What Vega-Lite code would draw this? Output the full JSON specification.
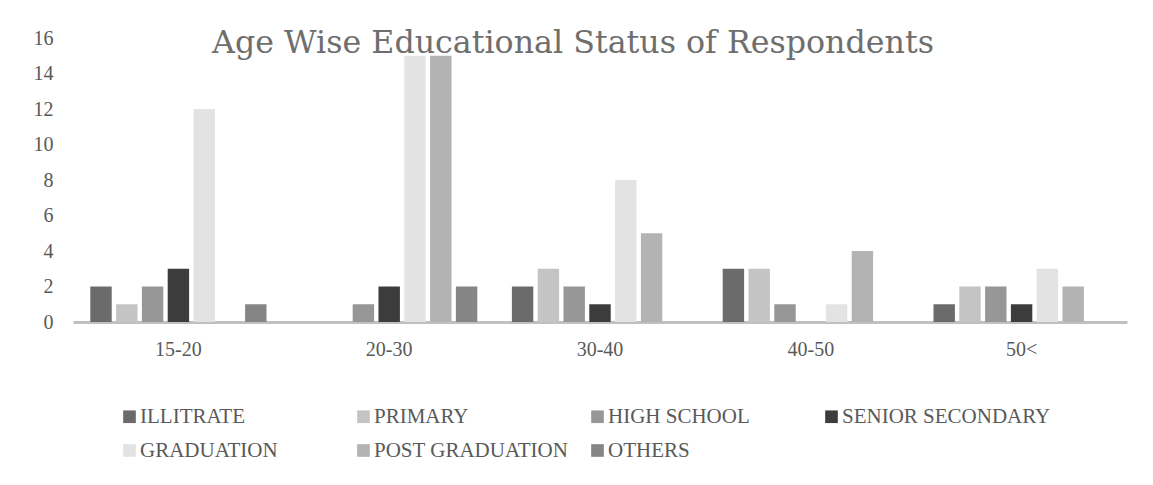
{
  "$schema": "https://vega.github.io/schema/vega-lite/v6.json",
  "width": 1054,
  "height": 284,
  "autosize": {"type": "none"},
  "padding": {"left": 73, "top": 38, "right": 26, "bottom": 163},
  "background": "white",
  "title": {
    "text": "Age Wise Educational Status of Respondents",
    "font": "DejaVu Serif",
    "fontSize": 31.7,
    "fontWeight": "normal",
    "color": "#6e6e6e",
    "anchor": "middle",
    "frame": "group",
    "offset": -28,
    "dx": -27,
    "dy": 29,
    "baseline": "alphabetic"
  },
  "data": {
    "values": [
      {"age": "15-20", "level": "ILLITRATE", "count": 2},
      {"age": "15-20", "level": "PRIMARY", "count": 1},
      {"age": "15-20", "level": "HIGH SCHOOL", "count": 2},
      {"age": "15-20", "level": "SENIOR SECONDARY", "count": 3},
      {"age": "15-20", "level": "GRADUATION", "count": 12},
      {"age": "15-20", "level": "POST GRADUATION", "count": 0},
      {"age": "15-20", "level": "OTHERS", "count": 1},
      {"age": "20-30", "level": "ILLITRATE", "count": 0},
      {"age": "20-30", "level": "PRIMARY", "count": 0},
      {"age": "20-30", "level": "HIGH SCHOOL", "count": 1},
      {"age": "20-30", "level": "SENIOR SECONDARY", "count": 2},
      {"age": "20-30", "level": "GRADUATION", "count": 15},
      {"age": "20-30", "level": "POST GRADUATION", "count": 15},
      {"age": "20-30", "level": "OTHERS", "count": 2},
      {"age": "30-40", "level": "ILLITRATE", "count": 2},
      {"age": "30-40", "level": "PRIMARY", "count": 3},
      {"age": "30-40", "level": "HIGH SCHOOL", "count": 2},
      {"age": "30-40", "level": "SENIOR SECONDARY", "count": 1},
      {"age": "30-40", "level": "GRADUATION", "count": 8},
      {"age": "30-40", "level": "POST GRADUATION", "count": 5},
      {"age": "30-40", "level": "OTHERS", "count": 0},
      {"age": "40-50", "level": "ILLITRATE", "count": 3},
      {"age": "40-50", "level": "PRIMARY", "count": 3},
      {"age": "40-50", "level": "HIGH SCHOOL", "count": 1},
      {"age": "40-50", "level": "SENIOR SECONDARY", "count": 0},
      {"age": "40-50", "level": "GRADUATION", "count": 1},
      {"age": "40-50", "level": "POST GRADUATION", "count": 4},
      {"age": "40-50", "level": "OTHERS", "count": 0},
      {"age": "50<", "level": "ILLITRATE", "count": 1},
      {"age": "50<", "level": "PRIMARY", "count": 2},
      {"age": "50<", "level": "HIGH SCHOOL", "count": 2},
      {"age": "50<", "level": "SENIOR SECONDARY", "count": 1},
      {"age": "50<", "level": "GRADUATION", "count": 3},
      {"age": "50<", "level": "POST GRADUATION", "count": 2},
      {"age": "50<", "level": "OTHERS", "count": 0}
    ]
  },
  "mark": {"type": "bar"},
  "encoding": {
    "x": {
      "field": "age",
      "type": "nominal",
      "sort": ["15-20", "20-30", "30-40", "40-50", "50<"],
      "scale": {"paddingInner": 0, "paddingOuter": 0},
      "title": null,
      "axis": {
        "labelAngle": 0,
        "labelFont": "Liberation Serif",
        "labelFontSize": 20,
        "labelColor": "#595959",
        "labelPadding": 17,
        "labelBaseline": "top",
        "ticks": false,
        "tickSize": 0,
        "domainColor": "#c0c0c0",
        "domainWidth": 3,
        "grid": false
      }
    },
    "xOffset": {
      "field": "level",
      "type": "nominal",
      "sort": ["ILLITRATE", "PRIMARY", "HIGH SCHOOL", "SENIOR SECONDARY", "GRADUATION", "POST GRADUATION", "OTHERS"],
      "scale": {"paddingInner": 0.17, "paddingOuter": 0.67}
    },
    "y": {
      "field": "count",
      "type": "quantitative",
      "scale": {"domain": [0, 16], "nice": false},
      "title": null,
      "axis": {
        "values": [0, 2, 4, 6, 8, 10, 12, 14, 16],
        "labelFont": "Liberation Serif",
        "labelFontSize": 20,
        "labelColor": "#595959",
        "labelPadding": 20,
        "ticks": false,
        "tickSize": 0,
        "domain": false,
        "grid": false
      }
    },
    "color": {
      "field": "level",
      "type": "nominal",
      "scale": {
        "domain": ["ILLITRATE", "PRIMARY", "HIGH SCHOOL", "SENIOR SECONDARY", "GRADUATION", "POST GRADUATION", "OTHERS"],
        "range": ["#6b6b6b", "#c4c4c4", "#979797", "#3c3c3c", "#e3e3e3", "#b3b3b3", "#858585"]
      },
      "legend": {
        "title": null,
        "orient": "none",
        "legendX": 46,
        "legendY": 368,
        "direction": "horizontal",
        "columns": 4,
        "gridAlign": "all",
        "columnPadding": 4,
        "rowPadding": 12,
        "symbolType": "square",
        "symbolSize": 160,
        "symbolStrokeWidth": 0,
        "labelFont": "Liberation Serif",
        "labelFontSize": 21,
        "labelColor": "#595959",
        "labelOffset": 0,
        "labelLimit": 0
      }
    }
  },
  "config": {"view": {"stroke": null}}
}
